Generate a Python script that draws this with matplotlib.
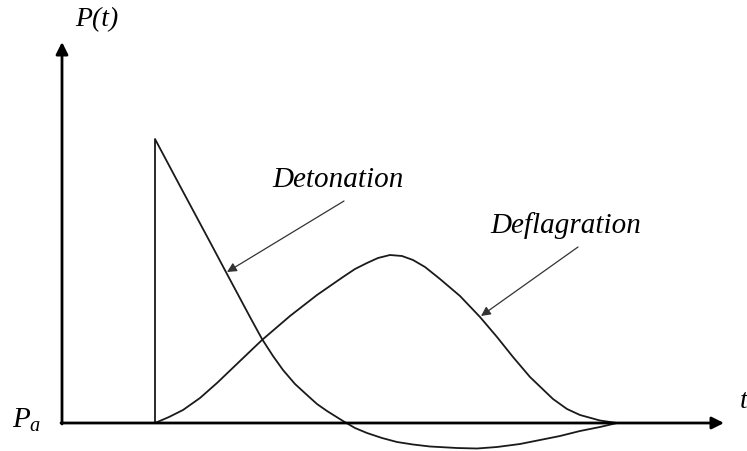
import matplotlib.pyplot as plt

plt.rcParams['font.family'] = ['Liberation Serif', 'DejaVu Serif']
plt.rcParams['mathtext.fontset'] = 'custom'
plt.rcParams['mathtext.it'] = 'Liberation Serif:italic'
plt.rcParams['mathtext.rm'] = 'Liberation Serif'

# detonation pressure history (t, P), P relative to ambient
det_t = [93, 93, 118, 148, 165, 188, 200, 211, 221, 233, 245, 255, 265, 281, 293, 305, 320,
         335, 351, 368, 395, 415, 435, 458, 478, 498, 518, 538, 555]
det_p = [0, 284, 237, 181, 149, 106, 84, 67, 53, 39, 28, 19, 12, 2, -5, -10, -15,
         -19, -21.5, -23.5, -25, -25.5, -24, -21, -17, -13, -8, -4, 0]

# deflagration pressure history
def_t = [93, 107, 121, 138, 155, 178, 200, 228, 255, 281, 293, 305, 316, 328, 340, 351, 363,
         378, 398, 418, 435, 451, 468, 491, 505, 518, 538, 555]
def_p = [0, 6, 13, 25, 40, 62, 83, 107, 128, 146, 154, 160, 165, 168, 167, 163, 156,
         144, 127, 106, 86, 66, 46, 24, 14, 8, 2.5, 0]

fig = plt.figure(figsize=(7.47, 4.52), dpi=100)
ax = fig.add_axes([0, 0, 1, 1])
ax.set_xlim(-62, 685)
ax.set_ylim(-28, 424)
ax.axis('off')

# axes with arrow heads
ax.annotate('', xy=(0, 381), xytext=(0, -1),
            arrowprops=dict(arrowstyle='-|>', lw=2, color='black', mutation_scale=18, shrinkA=0, shrinkB=0))
ax.annotate('', xy=(662, 0), xytext=(-1, 0),
            arrowprops=dict(arrowstyle='-|>', lw=2, color='black', mutation_scale=18, shrinkA=0, shrinkB=0))

ax.plot(det_t, det_p, color='#1a1a1a', lw=1.3, solid_joinstyle='round')
ax.plot(def_t, def_p, color='#1a1a1a', lw=1.3, solid_joinstyle='round')

# labels with pointer arrows
ax.annotate('', xy=(165, 151), xytext=(282, 222),
            arrowprops=dict(arrowstyle='-|>', lw=0.9, color='#333333', mutation_scale=14, shrinkA=0, shrinkB=0))
ax.annotate('', xy=(419, 107), xytext=(516, 176),
            arrowprops=dict(arrowstyle='-|>', lw=0.9, color='#333333', mutation_scale=14, shrinkA=0, shrinkB=0))

ax.text(210, 244, 'Detonation', fontsize=21, style='italic', ha='left', va='center')
ax.text(428, 198, 'Deflagration', fontsize=21, style='italic', ha='left', va='center')
ax.text(13, 404, 'P(t)', fontsize=20, style='italic', ha='left', va='center')
ax.text(-50, 4, '$P_a$', fontsize=21, ha='left', va='center')
ax.text(678, 22, 't', fontsize=20, style='italic', ha='left', va='center')

fig.savefig('out.png', dpi=100)
